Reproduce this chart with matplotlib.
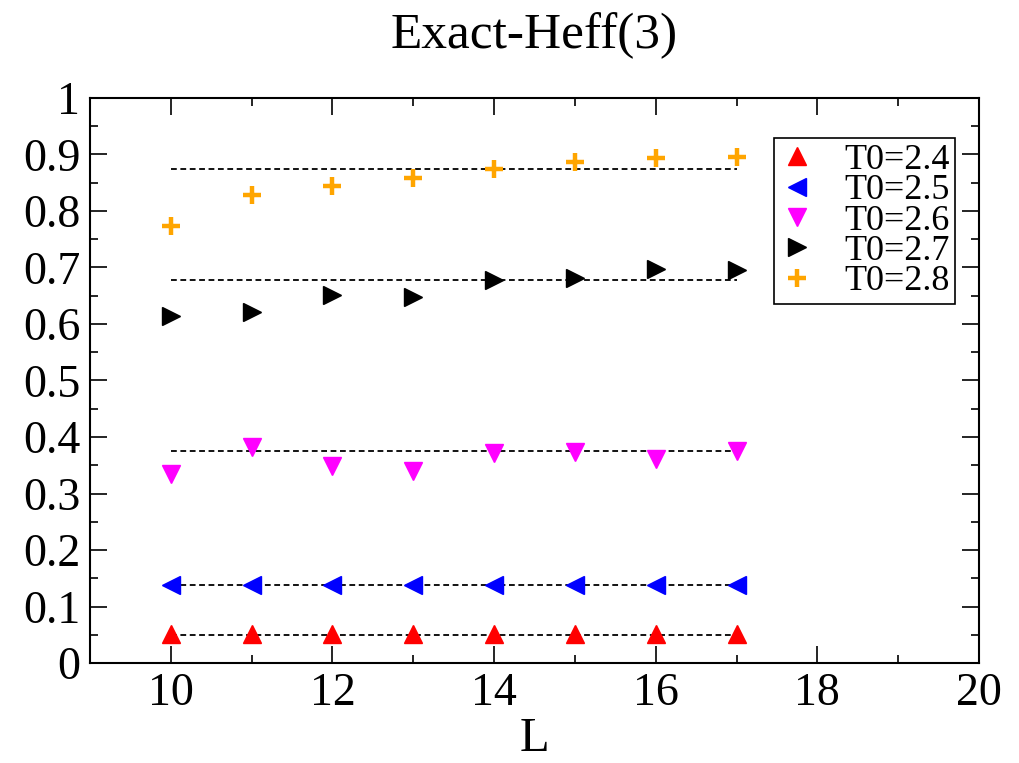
import matplotlib
matplotlib.use("Agg")
import matplotlib.pyplot as plt
from matplotlib.ticker import MultipleLocator

L = [10, 11, 12, 13, 14, 15, 16, 17]
t24 = [0.052, 0.052, 0.052, 0.052, 0.052, 0.052, 0.052, 0.052]
t25 = [0.138, 0.138, 0.138, 0.138, 0.138, 0.138, 0.138, 0.138]
t26 = [0.335, 0.382, 0.348, 0.340, 0.372, 0.373, 0.361, 0.376]
t27 = [0.614, 0.622, 0.651, 0.648, 0.677, 0.681, 0.697, 0.695]
t28 = [0.773, 0.829, 0.845, 0.858, 0.875, 0.887, 0.893, 0.896]
fit_levels = [0.050, 0.138, 0.376, 0.677, 0.874]
fit_range = [10, 17]
labels = ["T0=2.4", "T0=2.5", "T0=2.6", "T0=2.7", "T0=2.8"]

plt.rcParams['font.family'] = ['Liberation Serif', 'DejaVu Serif']

fig = plt.figure(figsize=(10.19, 7.63), dpi=100)
ax = fig.add_axes([90/1019, 1-663/763, 889/1019, 565/763])

series = [t24, t25, t26, t27, t28]
styles = [('^', 'red'), ('<', 'blue'), ('v', 'magenta'), ('>', 'black'), ('+', 'orange')]

for lvl in fit_levels:
    ax.plot(fit_range, [lvl, lvl], color='black', lw=1.3, linestyle=(0, (3.2, 2.0)), zorder=2)

for ys, (m, c), lab in zip(series, styles, labels):
    if m == '+':
        ax.plot(L, ys, linestyle='none', marker=m, ms=13, mew=3.2, color=c, label=lab, zorder=3)
    else:
        ax.plot(L, ys, linestyle='none', marker=m, ms=12.5, color=c, mec=c, label=lab, zorder=3)

ax.set_xlim(9, 20)
ax.set_ylim(0, 1)
ax.xaxis.set_major_locator(MultipleLocator(2))
ax.xaxis.set_minor_locator(MultipleLocator(1))
ax.yaxis.set_minor_locator(MultipleLocator(0.05))
ax.set_yticks([0, 0.1, 0.2, 0.3, 0.4, 0.5, 0.6, 0.7, 0.8, 0.9, 1.0])
ax.set_yticklabels(["0", "0.1", "0.2", "0.3", "0.4", "0.5", "0.6", "0.7", "0.8", "0.9", "1"])
ax.tick_params(which='both', direction='in', top=True, right=True, width=1.2, labelsize=33, pad=7)
ax.tick_params(which='major', length=12)
ax.tick_params(which='minor', length=6)
for s in ax.spines.values():
    s.set_linewidth(1.5)

ax.set_xlabel("L", fontsize=35, labelpad=1)
ax.set_title("Exact-Heff(3)", fontsize=37, pad=36)

leg = ax.legend(loc='upper right', bbox_to_anchor=(0.973, 0.929), fontsize=26,
                frameon=True, fancybox=False, edgecolor='black', framealpha=1,
                handlelength=1.0, handletextpad=0.8, labelspacing=-0.08,
                borderpad=0.15, borderaxespad=0, numpoints=1)
leg.get_frame().set_linewidth(1.2)

fig.savefig("out.png", dpi=100)
